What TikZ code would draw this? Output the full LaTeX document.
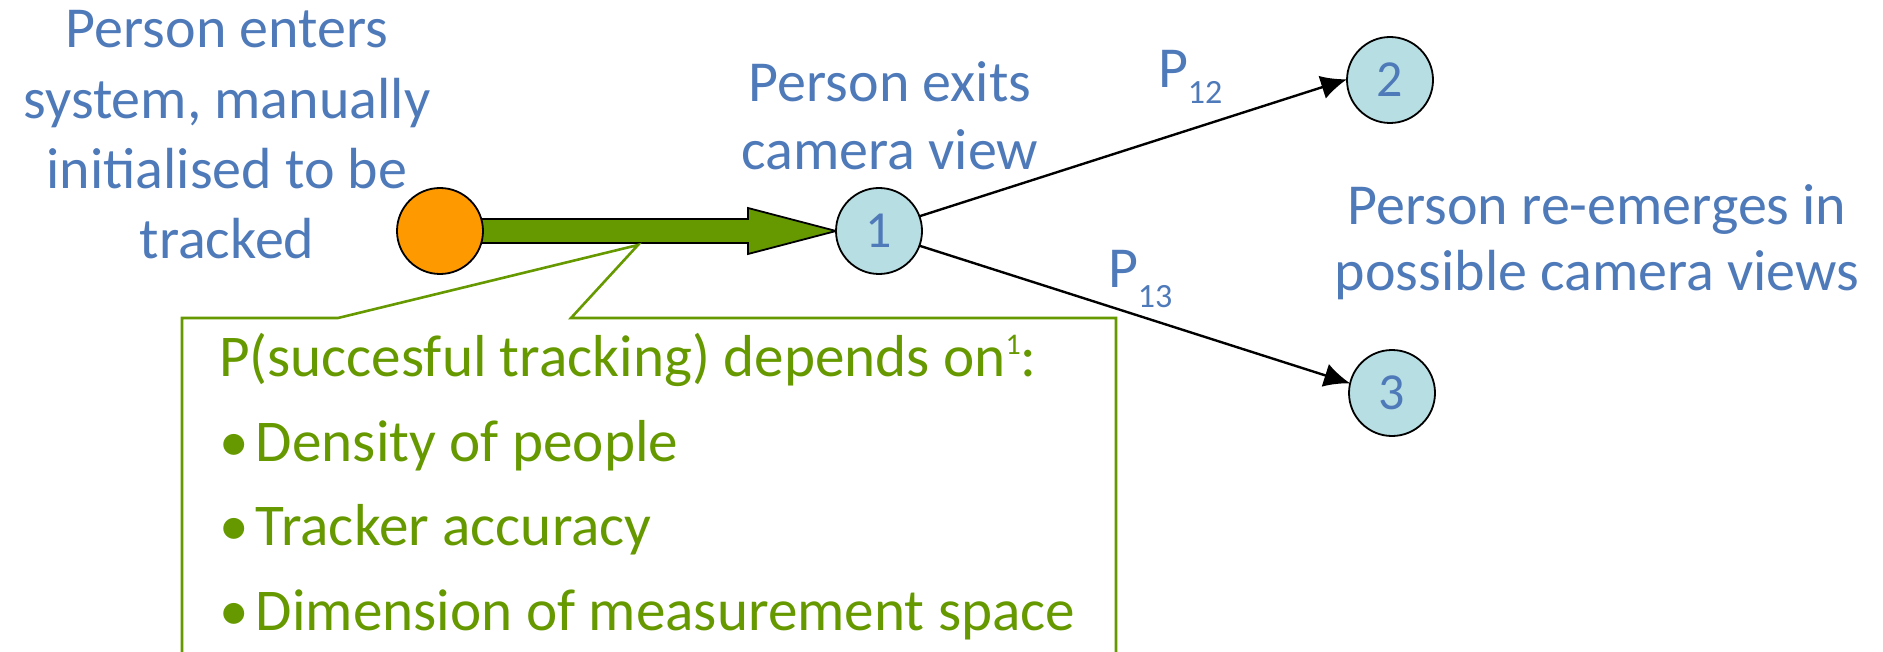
\documentclass[tikz,border=0pt]{standalone}
\usepackage{fontspec}
\setmainfont{Carlito}
\usetikzlibrary{calc,arrows.meta,backgrounds}
\definecolor{txtblue}{HTML}{4F7AB9}
\definecolor{grn}{HTML}{669900}
\definecolor{org}{HTML}{FF9900}
\definecolor{lblue}{HTML}{B7DEE3}
\begin{document}
\begin{tikzpicture}[x=0.5pt,y=-0.5pt,
  bluetext/.style={text=txtblue,align=center,inner sep=0pt,outer sep=0pt},
  statenode/.style={circle,draw=black,line width=0.9pt,fill=lblue,minimum size=43pt,inner sep=0pt,outer sep=0pt,text=txtblue,font=\fontsize{26}{30}\selectfont},
  startnode/.style={circle,draw=black,line width=0.9pt,fill=org,minimum size=43pt,inner sep=0pt,outer sep=0pt},
  trans/.style={draw=black,line width=1.2pt,-{Latex[length=13pt,width=12pt]}},
  blockarrow/.style={draw=black,line width=0.9pt,fill=grn,line join=miter},
  calloutline/.style={draw=grn,line width=1.3pt,line join=miter},
  calltext/.style={text=grn,align=left,inner sep=0pt,outer sep=0pt,font=\fontsize{29.6}{42.2}\selectfont},
  plabel/.style={text=txtblue,inner sep=0pt,outer sep=0pt}
]
\clip (0,0) rectangle (1883,652);

% texts (base anchor = baseline of last line)
\node[bluetext,anchor=base,font=\fontsize{29}{35}\selectfont] (enter) at (227,258)
  {Person enters\\system, manually\\initialised to be\\tracked};
\node[bluetext,anchor=base,font=\fontsize{29}{34}\selectfont] (exits) at (890,170)
  {Person exits\\camera view};
\node[bluetext,anchor=base,font=\fontsize{29}{32.5}\selectfont] (reem) at (1597,290)
  {Person re-emerges in\\possible camera views};

% state nodes
\node[startnode] (o) at (440,231) {};
\node[statenode] (n1) at (879,231) {1};
\node[statenode] (n2) at (1390,80) {2};
\node[statenode] (n3) at (1392,393) {3};

% green block arrow
\begin{scope}[on background layer]
\draw[blockarrow] ($(o.center)+(20,-12)$) -- ($(n1.west)+(-88,-12)$) -- ($(n1.west)+(-88,-23)$)
  -- (n1.west) -- ($(n1.west)+(-88,23)$) -- ($(n1.west)+(-88,12)$) -- ($(o.center)+(20,12)$) -- cycle;
\end{scope}

% transitions
\draw[trans] (n1.20) -- (n2.179);
\draw[trans] (n1.-20) -- (n3.167);
\node[plabel,anchor=base west] (p12) at (1158,88)
  {\fontsize{29}{35}\selectfont P\raisebox{-8pt}{\fontsize{17}{20}\selectfont 12}};
\node[plabel,anchor=base west] (p13) at (1108,287)
  {\fontsize{29}{35}\selectfont P\raisebox{-10pt}{\fontsize{17}{20}\selectfont 13}};

% callout
\coordinate (tip) at (638,245);
\draw[calloutline] (182,700) -- (182,318) -- (338,318) -- (tip) -- (571,318) -- (1116,318) -- (1116,700);
\node[calltext,anchor=base west] (ct) at (219,630)
  {P(succesful tracking) depends on\raisebox{11pt}{\fontsize{15}{18}\selectfont 1}:\\
   \makebox[18.5pt][l]{•}Density of people\\
   \makebox[18.5pt][l]{•}Tracker accuracy\\
   \makebox[18.5pt][l]{•}Dimension of measurement space};
\end{tikzpicture}
\end{document}
